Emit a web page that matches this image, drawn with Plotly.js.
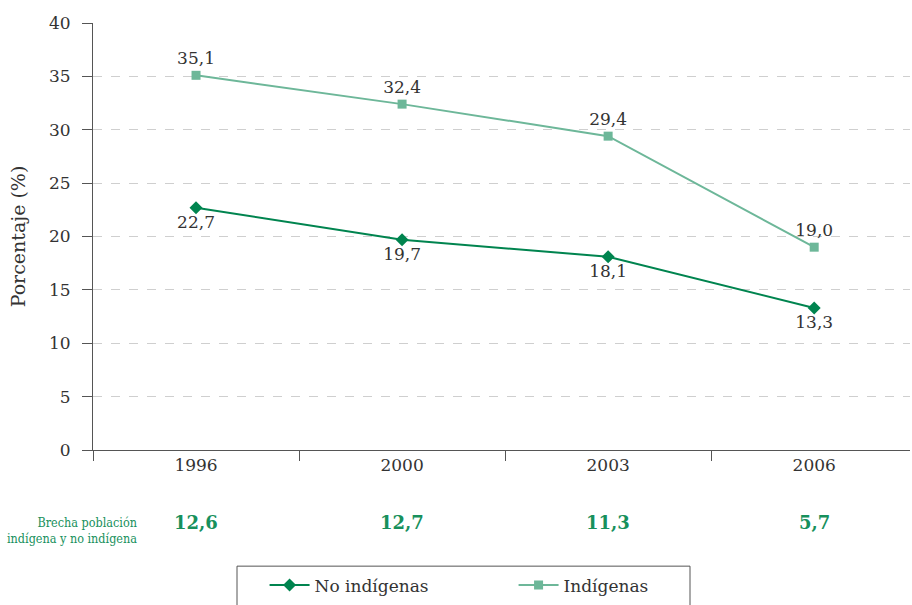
<!DOCTYPE html>
<html>
<head>
<meta charset="utf-8">
<script src="https://cdn.plot.ly/plotly-3.0.1.min.js"></script>
<style>html,body{margin:0;padding:0;background:#fff;}#chart{width:912px;height:605px;}</style>
</head>
<body>
<div id="chart"></div>
<script>
const years = ['1996', '2000', '2003', '2006'];
const noIndigenas = [22.7, 19.7, 18.1, 13.3];
const indigenas = [35.1, 32.4, 29.4, 19.0];
const brecha = [12.6, 12.7, 11.3, 5.7];
const yTicks = [0, 5, 10, 15, 20, 25, 30, 35, 40];

const fmt = v => v.toFixed(1).replace('.', ',');
const serif = 'DejaVu Serif';
const serifCond = 'DejaVu Serif Condensed, DejaVu Serif';
const darkGreen = '#00844f';
const lightGreen = '#6db799';
const textGreen = '#17905c';

const traces = [
  {
    x: years, y: noIndigenas, name: 'No indígenas', type: 'scatter',
    mode: 'lines+markers+text',
    text: noIndigenas.map(fmt), textposition: 'bottom center',
    textfont: {family: serif, size: 17, color: '#333'},
    line: {color: darkGreen, width: 2},
    marker: {symbol: 'diamond', size: 10, color: darkGreen},
    cliponaxis: false
  },
  {
    x: years, y: indigenas, name: 'Indígenas', type: 'scatter',
    mode: 'lines+markers+text',
    text: indigenas.map(fmt), textposition: 'top center',
    textfont: {family: serif, size: 17, color: '#333'},
    line: {color: lightGreen, width: 2},
    marker: {symbol: 'square', size: 9, color: lightGreen},
    cliponaxis: false
  }
];

const annotations = [
  {
    xref: 'paper', yref: 'paper', x: 0.056, y: -0.188, xanchor: 'right', yanchor: 'middle',
    text: 'Brecha población<br>indígena y no indígena', align: 'right', showarrow: false,
    font: {family: serifCond, size: 12.5, color: textGreen}
  }
].concat(years.map((yr, i) => ({
  xref: 'x', yref: 'paper', x: i, y: -0.17, yanchor: 'middle', xanchor: 'center',
  text: fmt(brecha[i]), showarrow: false,
  font: {family: serif, size: 18, color: textGreen, weight: 'bold'}
})));

const layout = {
  width: 912, height: 605,
  margin: {l: 93, r: 2, t: 23, b: 152},
  paper_bgcolor: '#fff', plot_bgcolor: '#fff',
  font: {family: serif, color: '#333'},
  showlegend: true,
  legend: {
    orientation: 'h', x: 0.21, xanchor: 'left', y: -0.275, yanchor: 'top',
    font: {family: serif, size: 17, color: '#333'},
    bgcolor: 'rgba(0,0,0,0)', borderwidth: 0,
    entrywidth: 194, entrywidthmode: 'pixels', itemwidth: 40
  },
  xaxis: {
    type: 'category', categoryorder: 'array', categoryarray: years,
    range: [-0.5, 3.465],
    showline: true, linecolor: '#555', linewidth: 1,
    ticks: 'outside', tickson: 'boundaries', ticklen: 10, tickcolor: '#555',
    showgrid: false, zeroline: false,
    tickfont: {family: serif, size: 17, color: '#333'}
  },
  yaxis: {
    range: [0, 40], tickvals: yTicks,
    showline: true, linecolor: '#555', linewidth: 1,
    ticks: 'outside', ticklen: 10, tickcolor: '#555', ticklabelstandoff: 8,
    showgrid: true, gridcolor: '#cfcfcf', griddash: 'dash', gridwidth: 1,
    zeroline: false,
    tickfont: {family: serif, size: 17, color: '#333'},
    title: {text: 'Porcentaje (%)', font: {family: serif, size: 19, color: '#333'}, standoff: 18}
  },
  shapes: [
    {type: 'rect', xref: 'paper', yref: 'paper',
     x0: (237 - 93) / 817, x1: (690 - 93) / 817, y0: -0.272, y1: -0.40,
     line: {color: '#555', width: 1}, fillcolor: 'rgba(0,0,0,0)'}
  ],
  annotations: annotations
};

Plotly.newPlot('chart', traces, layout, {displayModeBar: false, staticPlot: true});
</script>
</body>
</html>
